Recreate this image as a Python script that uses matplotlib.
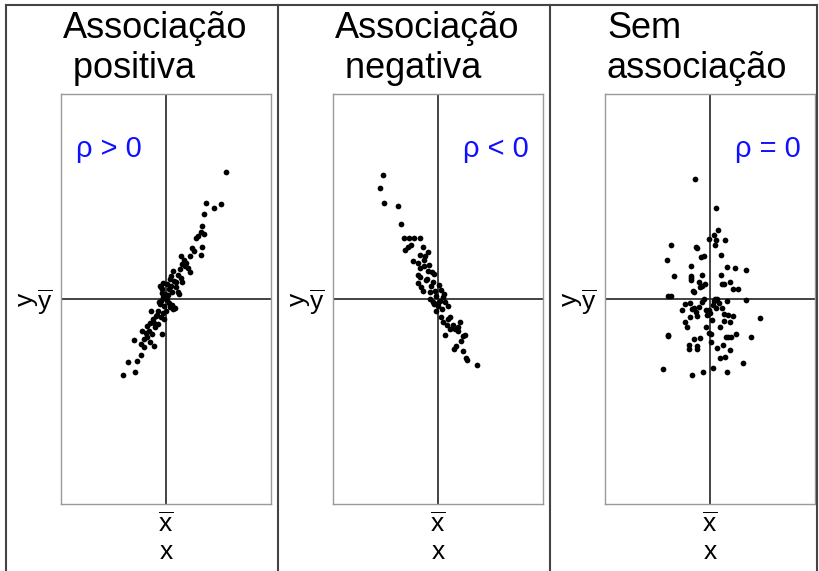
import matplotlib
matplotlib.use('Agg')
import matplotlib.pyplot as plt
from matplotlib.lines import Line2D

plt.rcParams['font.family'] = ['Liberation Sans', 'DejaVu Sans']
plt.rcParams['mathtext.fontset'] = 'custom'
plt.rcParams['mathtext.rm'] = 'Liberation Sans'
plt.rcParams['mathtext.sf'] = 'Liberation Sans'
plt.rcParams['mathtext.it'] = 'Liberation Sans:italic'

# positive association (offsets from the means)
pos_x = [6.0, 4.0, 4.8, 5.5, 3.8, 3.6, 3.5, 3.8, 3.2, 3.0, 3.6, 2.6, 3.5, 2.4, 1.5,
         1.8, 1.6, 1.9, 2.2, 2.4, 0.7, 0.5, 1.2, 1.5, 1.0, 1.6, -0.3, 0.1, -0.5, 0.3,
         0.6, 1.2, -0.1, -0.3, -0.5, 0.1, 0.3, 0.6, 0.8, 0.4, -0.2, -0.6, 0.9, 0.7, -0.6,
         -0.4, 1.3, 0.4, -0.8, -0.3, -0.2, -1.0, -1.5, -1.3, -0.8, -1.1, -1.9, -1.7, -2.4, -1.4,
         -0.4, -1.9, -2.2, -3.2, -2.5, -1.6, -1.2, -2.2, -2.5, -2.9, -3.8, -3.1, -4.3,
         0.0, -0.1, 0.2, -0.4, 0.5, 0.8, -0.9, -1.2, -1.6, -2.0, 1.0, 2.0, 2.8, 1.4, -0.7, 0.0, -0.5]
pos_y = [12.7, 9.6, 9.1, 9.5, 8.5, 7.3, 6.7, 6.5, 6.3, 6.1, 5.2, 5.1, 4.4, 4.3, 4.3,
         3.9, 3.5, 3.3, 3.1, 2.7, 2.8, 2.3, 2.4, 2.1, 1.7, 1.7, 1.6, 1.5, 1.2, 1.0,
         0.7, 0.7, 0.5, 0.2, -0.2, -0.1, -0.4, -0.6, -0.9, -0.8, -0.7, -0.5, -0.9, -1.0, 1.3,
         1.0, 0.5, 2.0, -1.2, -1.4, -2.0, -1.7, -1.2, -2.0, -2.5, -2.8, -2.7, -3.2, -3.2, -3.5,
         -3.5, -3.8, -4.0, -4.1, -4.5, -4.3, -4.7, -4.8, -5.6, -6.2, -6.3, -7.3, -7.6,
         0.0, 0.3, 0.4, 0.6, 1.3, 1.8, -1.6, -2.4, -2.4, -3.4, 1.2, 3.6, 4.8, 3.0, -0.3, -1.2, -1.8]

# negative association
neg_x = [-5.5, -5.8, -5.4, -4.0, -3.7, -3.4, -2.9, -2.4, -1.8, -2.7, -3.0, -3.3, -1.5, -1.0, -1.8,
         -1.3, -2.5, -2.0, -1.4, -1.8, -1.4, -1.0, -0.6, -0.4, -2.0, -1.8, -0.5, -2.0, -1.7, -1.5,
         -0.7, -0.8, 0.3, -0.2, 0.5, 0.2, 0.7, -0.8, -0.4, 0.0, -0.2, 1.0, 0.3, 0.5, 1.2,
         0.9, 1.2, 2.2, 0.7, 1.7, 2.0, 2.5, 2.7, 2.3, 1.8, 1.6, 2.5, 2.8, 2.9, 3.9,
         -0.3, 0.1, -0.5, 0.4, 0.6, -1.1, 1.5, 0.0, -1.2, 1.0, 2.0, -0.9]
neg_y = [12.4, 11.1, 9.6, 9.3, 7.5, 6.1, 6.1, 6.1, 6.1, 5.4, 5.2, 4.9, 5.2, 4.7, 4.4,
         4.3, 3.8, 3.6, 3.9, 3.1, 3.3, 2.8, 2.7, 2.5, 2.4, 2.2, 1.7, 1.6, 1.2, 0.8,
         1.3, 0.7, 0.9, 0.3, 0.2, -0.2, -0.3, 0.0, -0.5, -0.7, -1.2, -0.7, -1.8, -2.3, -1.8,
         -2.6, -3.0, -2.3, -3.6, -3.0, -3.2, -3.7, -3.6, -4.2, -4.7, -5.0, -5.2, -5.9, -6.1, -6.6,
         0.8, 1.4, -0.3, -1.0, 0.5, 2.0, -2.6, -0.4, 1.9, -2.0, -2.8, 3.4]

# no association
zero_x = [-1.5, 0.6, 0.8, 0.4, -0.1, 0.6, 1.5, -3.9, -1.4, -1.3, 0.5, -0.9, -0.6, 1.1, -4.3,
          -1.9, 1.7, 2.5, 3.6, -3.6, -1.9, -1.9, -1.9, -0.8, 1.1, -1.1, -0.5, -1.0, -0.8, 1.2,
          1.4, 2.0, 2.3, 2.8, -1.7, -1.6, -4.2, -3.9, -0.6, 0.5, 0.7, 0.4, 1.7, 3.6, -2.5,
          -2.0, -2.8, -1.6, -1.1, -1.4, -1.3, -0.4, -0.1, -0.3, 0.0, 0.6, 1.2, 1.4, 1.8, 2.3,
          1.4, 2.0, 0.2, 5.0, -2.5, -2.3, -0.4, -0.1, 0.1, -4.2, -4.2, 1.6, 1.8, 2.1, 2.6,
          4.1, -1.6, -1.0, 0.1, -2.1, -2.1, -1.3, -1.3, 1.3, 0.7, 2.0, 1.0, 1.5, 3.3, -4.7,
          0.3, -0.7, 1.7, -1.8, -0.8, -1.8, 0.3, -2.0, 0.9, 1.0]
zero_y = [12.0, 9.1, 6.9, 6.4, 6.0, 5.9, 5.9, 5.4, 5.2, 5.1, 5.4, 4.2, 4.3, 4.4, 3.9,
          3.3, 3.2, 3.1, 2.9, 2.3, 2.3, 2.1, 1.9, 2.4, 2.4, 1.7, 1.5, 1.2, 1.3, 1.5,
          1.5, 1.7, 1.0, 1.0, 0.8, 0.7, 0.3, 0.3, 0.0, 0.0, 0.0, -0.2, -0.2, -0.1, -0.5,
          -0.4, -1.1, -0.9, -0.8, -1.3, -1.7, -1.1, -1.1, -1.6, -1.4, -0.9, -0.9, -1.5, -1.6, -1.7,
          -2.2, -2.3, -2.1, -1.9, -2.3, -2.8, -2.8, -3.4, -3.5, -3.6, -3.7, -3.8, -3.8, -3.8, -3.5,
          -3.8, -4.0, -3.9, -4.3, -4.6, -5.0, -4.7, -5.0, -4.6, -4.9, -5.1, -5.9, -5.8, -6.4, -7.0,
          -6.9, -7.3, -7.3, -7.6, -0.3, -1.0, -0.6, -1.8, -0.4, -2.8]

titles = [('Associação', ' positiva'), ('Associação', ' negativa'), ('Sem', 'associação')]
rho_labels = ['ρ > 0', 'ρ < 0', 'ρ = 0']
rho_pos = [(0.07, 'left'), (0.93, 'right'), (0.93, 'right')]
series = [(pos_x, pos_y), (neg_x, neg_y), (zero_x, zero_y)]

W, H = 819, 571
fig = plt.figure(figsize=(W / 100, H / 100), dpi=100)

lefts = [61, 333, 605]
for i, left in enumerate(lefts):
    ax = fig.add_axes([left / W, (H - 504) / H, 210 / W, 410 / H])
    xs, ys = series[i]
    ax.scatter(xs, ys, s=17, color='black', linewidths=0, zorder=3)
    ax.axhline(0, color='#222222', lw=1.2, zorder=2)
    ax.axvline(0, color='#222222', lw=1.2, zorder=2)
    ax.set_xlim(-10.5, 10.5)
    ax.set_ylim(-20.5, 20.5)
    for sp in ax.spines.values():
        sp.set_color('#999999')
        sp.set_linewidth(1.0)
    ax.set_xticks([0])
    ax.set_xticklabels([r'$\overline{\mathrm{x}}$'], fontsize=19)
    ax.set_yticks([0])
    ax.set_yticklabels([r'$\overline{\mathrm{y}}$'], fontsize=19)
    ax.tick_params(length=0, pad=6)
    ax.set_xlabel('x', fontsize=19, labelpad=2)
    ax.set_ylabel('y', fontsize=19, labelpad=0)
    rx, ha = rho_pos[i]
    ax.text(rx, 0.865, rho_labels[i], transform=ax.transAxes, ha=ha, va='center',
            fontsize=21, color='#1010ff')
    t1, t2 = titles[i]
    fig.text((left + 2) / W, 1 - 38 / H, t1, fontsize=26, ha='left', va='baseline')
    fig.text((left + 2) / W, 1 - 78 / H, t2, fontsize=26, ha='left', va='baseline')

# outer frame and panel dividers
frame = dict(color='#444444', lw=1.5, transform=fig.transFigure)
fig.add_artist(Line2D([6 / W, 817 / W], [1 - 5 / H, 1 - 5 / H], **frame))
for xp in [6, 278, 550, 817]:
    fig.add_artist(Line2D([xp / W, xp / W], [0, 1 - 5 / H], **frame))

fig.savefig('out.png', dpi=100)
